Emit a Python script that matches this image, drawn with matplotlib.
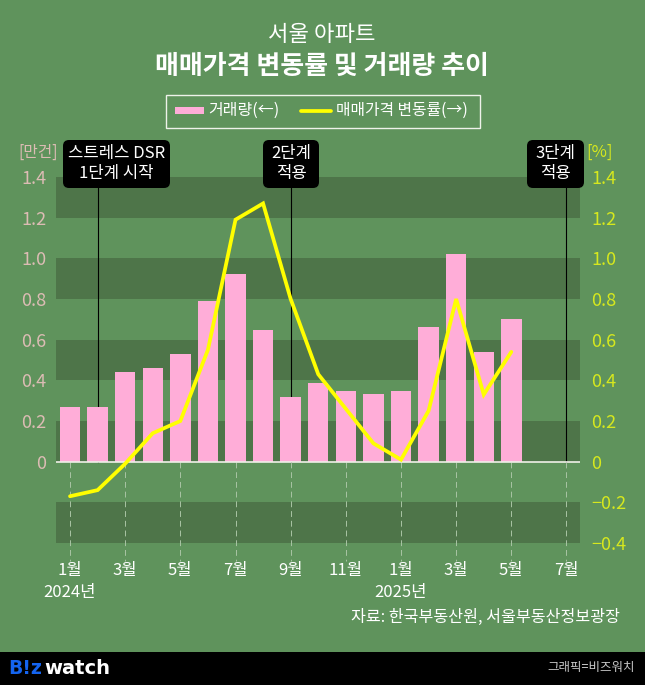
import matplotlib
matplotlib.use('Agg')
import matplotlib.pyplot as plt
from matplotlib.patches import FancyBboxPatch, Rectangle

plt.rcParams['font.family'] = ['Noto Sans CJK KR', 'DejaVu Sans']

# data
months = list(range(19))
month_labels = ['1월', '3월', '5월', '7월', '9월', '11월', '1월', '3월', '5월', '7월']
volume = [0.27, 0.27, 0.44, 0.46, 0.53, 0.79, 0.925, 0.65, 0.32, 0.385, 0.35, 0.335, 0.35, 0.66, 1.02, 0.54, 0.70]
price = [-0.17, -0.14, -0.01, 0.14, 0.20, 0.55, 1.19, 1.27, 0.80, 0.43, 0.26, 0.09, 0.01, 0.25, 0.80, 0.33, 0.54]
left_ticks = [0, 0.2, 0.4, 0.6, 0.8, 1.0, 1.2, 1.4]
right_ticks = [-0.4, -0.2, 0, 0.2, 0.4, 0.6, 0.8, 1.0, 1.2, 1.4]
bands = [(1.2, 1.4), (0.8, 1.0), (0.4, 0.6), (0.0, 0.2), (-0.4, -0.2)]
policy_x = [1, 8, 18]
policy_text = ['스트레스 DSR\n1단계 시작', '2단계\n적용', '3단계\n적용']

BG = '#5f935c'
DARK = '#4e7549'
PINK = '#ffadd8'
YELLOW = '#ffff00'
LEFT_C = '#dcbcb4'
RIGHT_C = '#d6e81e'
W, H = 645, 685

fig = plt.figure(figsize=(W / 100, H / 100), dpi=100, facecolor=BG)
ax = fig.add_axes([56 / W, 1 - 543 / H, 524 / W, 366 / H])
ax.set_facecolor('none')
ax.set_xlim(-0.508, 18.49)
ax.set_ylim(-0.4, 1.4)

for lo, hi in bands:
    ax.axhspan(lo, hi, color=DARK, lw=0, zorder=0)

# month guides run past the bottom of the plot
for m in months[::2]:
    ax.plot([m, m], [0, -0.49], color='#a9c4a4', lw=0.7, ls=(0, (6, 4)), clip_on=False, zorder=1)

for x in policy_x:
    ax.plot([x, x], [0, 1.4], color='black', lw=0.8, zorder=1.5)

ax.bar(months[:len(volume)], volume, width=0.74, color=PINK, zorder=2)
ax.axhline(0, color='#f0f0e8', lw=1.2, zorder=3)

for s in ax.spines.values():
    s.set_visible(False)
ax.set_xticks(months[::2])
ax.set_xticklabels(month_labels, color='white', fontsize=12)
ax.tick_params(axis='x', length=0, pad=14)
ax.set_yticks(left_ticks)
ax.set_yticklabels(['0'] + [f'{t:.1f}' for t in left_ticks[1:]], color=LEFT_C, fontsize=13)
ax.tick_params(axis='y', length=0, pad=7)

ax2 = ax.twinx()
ax2.set_ylim(-0.4, 1.4)
ax2.set_facecolor('none')
for s in ax2.spines.values():
    s.set_visible(False)
ax2.plot(months[:len(price)], price, color=YELLOW, lw=2.7, solid_joinstyle='miter', solid_capstyle='round', zorder=4)
ax2.set_yticks(right_ticks)
ax2.set_yticklabels(['−0.4', '−0.2', '0'] + [f'{t:.1f}' for t in right_ticks[3:]], color=RIGHT_C, fontsize=13)
ax2.tick_params(axis='y', length=0, pad=8)

# overlay in pixel coords for title, legend, callouts, footer
ov = fig.add_axes([0, 0, 1, 1], zorder=10)
ov.set_xlim(0, W)
ov.set_ylim(H, 0)
ov.axis('off')

ov.text(322, 34, '서울 아파트', color='white', fontsize=16, fontweight='medium', ha='center', va='center')
ov.text(322, 66, '매매가격 변동률 및 거래량 추이', color='white', fontsize=18.7, fontweight='bold', ha='center', va='center')

# legend box
ov.add_patch(Rectangle((165.5, 94.5), 314, 33, fc='none', ec='#eef2ea', lw=1))
ov.add_patch(Rectangle((175, 107), 29, 7, fc=PINK, ec='none'))
ov.text(208, 110.5, '거래량(←)', color='white', fontsize=11.5, ha='left', va='center')
ov.plot([301, 331], [110.5, 110.5], color=YELLOW, lw=2.7, solid_capstyle='round')
ov.text(336, 110.5, '매매가격 변동률(→)', color='white', fontsize=11.4, ha='left', va='center')

# unit labels
ov.text(38, 152, '[만건]', color=LEFT_C, fontsize=11.3, ha='center', va='center')
ov.text(600, 152, '[%]', color=RIGHT_C, fontsize=12, ha='center', va='center')

# policy callouts
boxes = [(63, 107), (263, 56), (527, 57)]
for (bx, bw), txt in zip(boxes, policy_text):
    ov.add_patch(FancyBboxPatch((bx, 140), bw, 48, boxstyle='round,pad=0,rounding_size=6',
                                fc='black', ec='none', lw=0))
    ov.text(bx + bw / 2, 163.5, txt, color='white', fontsize=12, ha='center', va='center', linespacing=1.2)

ov.text(70, 592, '2024년', color='white', fontsize=12, ha='center', va='center')
ov.text(401, 592, '2025년', color='white', fontsize=12, ha='center', va='center')
ov.text(620, 617, '자료: 한국부동산원, 서울부동산정보광장', color='white', fontsize=11.6, fontweight='medium', ha='right', va='center')

# footer
ov.add_patch(Rectangle((0, 652), W, 33, fc='black', ec='none'))
ov.text(8, 669, 'B!z', color='#1464f0', fontsize=13.5, fontweight='bold', family='DejaVu Sans', ha='left', va='center')
ov.text(44, 669, 'watch', color='white', fontsize=14, fontweight='bold', family='DejaVu Sans', ha='left', va='center')
ov.text(635, 668, '그래픽=비즈워치', color='#c8c8c8', fontsize=9, ha='right', va='center')

fig.savefig('out.png', dpi=100, facecolor=BG)
